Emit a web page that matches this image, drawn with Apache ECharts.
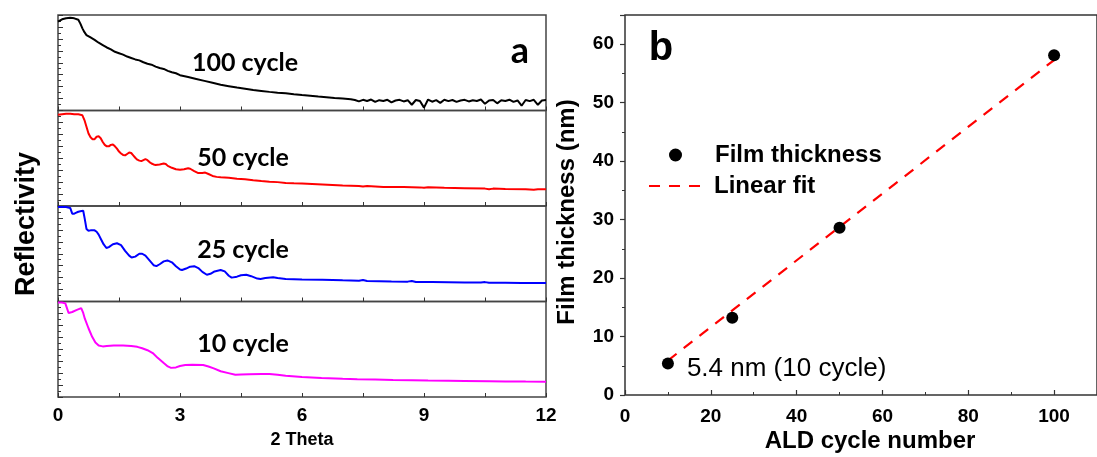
<!DOCTYPE html>
<html>
<head>
<meta charset="utf-8">
<script src="https://cdn.jsdelivr.net/npm/echarts@6/dist/echarts.min.js"></script>
<style>
html,body{margin:0;padding:0;background:#fff;}
#chart{width:1097px;height:457px;}
</style>
</head>
<body>
<div id="chart"></div>
<script>
// ---------- Panel a: XRR curves (normalised position inside each sub-panel) ----------
const curve100 = [
[0,0.93],[0.1,0.955],[0.2,0.965],[0.3,0.97],[0.4,0.965],[0.5,0.95],[0.55,0.91],[0.6,0.86],[0.65,0.82],[0.7,0.79],[0.8,0.765],[0.9,0.74],[1.0,0.71],[1.1,0.685],[1.2,0.66],[1.3,0.64],[1.4,0.615],[1.5,0.6],[1.6,0.585],[1.7,0.565],[1.8,0.55],[1.9,0.535],[2.0,0.525],[2.1,0.505],[2.2,0.49],[2.3,0.48],[2.4,0.46],[2.5,0.445],[2.6,0.435],[2.7,0.415],[2.8,0.4],[2.9,0.39],[3.0,0.37],[3.2,0.35],[3.4,0.33],[3.6,0.31],[3.8,0.29],[4.0,0.27],[4.2,0.255],[4.4,0.24],[4.6,0.228],[4.8,0.215],[5.0,0.205],[5.2,0.195],[5.4,0.187],[5.6,0.18],[5.8,0.17],[6.0,0.162],[6.2,0.155],[6.4,0.146],[6.6,0.14],[6.8,0.132],[7.0,0.125],[7.2,0.118],
[7.3,0.11],[7.4,0.095],[7.5,0.112],[7.6,0.1],[7.7,0.115],[7.8,0.09],[7.9,0.108],[8.0,0.1],[8.1,0.112],[8.2,0.085],[8.3,0.105],[8.4,0.112],[8.5,0.095],[8.6,0.108],[8.7,0.06],[8.8,0.11],[8.9,0.1],[9.0,0.03],[9.1,0.115],[9.2,0.092],[9.3,0.108],[9.4,0.08],[9.5,0.112],[9.6,0.098],[9.7,0.11],[9.8,0.09],[9.9,0.105],[10.0,0.112],[10.1,0.095],[10.2,0.108],[10.3,0.1],[10.4,0.115],[10.5,0.07],[10.6,0.105],[10.7,0.11],[10.8,0.075],[10.9,0.108],[11.0,0.1],[11.1,0.113],[11.2,0.09],[11.3,0.105],[11.4,0.05],[11.5,0.11],[11.6,0.098],[11.7,0.112],[11.8,0.06],[11.9,0.105],[12.0,0.11]
];
const curve50 = [
[0,0.955],[0.1,0.96],[0.2,0.965],[0.3,0.965],[0.4,0.96],[0.5,0.96],[0.6,0.95],[0.65,0.9],[0.7,0.83],[0.75,0.76],[0.8,0.72],[0.85,0.7],[0.9,0.7],[0.95,0.725],[1.0,0.73],[1.05,0.71],[1.1,0.67],[1.15,0.64],[1.2,0.625],[1.25,0.625],[1.3,0.64],[1.35,0.645],[1.4,0.625],[1.45,0.6],[1.5,0.57],[1.55,0.55],[1.6,0.535],[1.65,0.53],[1.7,0.545],[1.75,0.56],[1.8,0.555],[1.85,0.53],[1.9,0.505],[1.95,0.485],[2.0,0.475],[2.05,0.47],[2.1,0.48],[2.15,0.49],[2.2,0.48],[2.25,0.46],[2.3,0.445],[2.35,0.435],[2.4,0.43],[2.5,0.435],[2.6,0.445],[2.65,0.44],[2.7,0.42],[2.8,0.4],[2.9,0.385],[3.0,0.38],[3.1,0.385],[3.2,0.395],[3.25,0.39],[3.35,0.365],[3.45,0.345],[3.55,0.345],[3.62,0.35],[3.7,0.335],[3.8,0.315],[3.9,0.305],[4.0,0.3],[4.2,0.295],[4.4,0.285],[4.6,0.28],[4.8,0.27],[5.0,0.262],[5.2,0.255],[5.4,0.25],[5.6,0.242],[5.8,0.238],[6.0,0.235],[6.5,0.225],[7.0,0.215],[7.4,0.21],[7.5,0.205],[7.6,0.21],[8.0,0.2],[8.5,0.198],[8.9,0.195],[9.0,0.19],[9.1,0.196],[9.5,0.19],[10.0,0.186],[10.5,0.182],[10.6,0.176],[10.7,0.182],[11.0,0.178],[11.5,0.176],[11.7,0.17],[11.8,0.176],[12.0,0.175]
];
const curve25 = [
[0,0.99],[0.1,0.99],[0.2,0.99],[0.3,0.98],[0.35,0.92],[0.4,0.92],[0.45,0.93],[0.5,0.94],[0.55,0.945],[0.62,0.95],[0.66,0.86],[0.7,0.76],[0.75,0.74],[0.8,0.745],[0.9,0.745],[0.95,0.73],[1.0,0.7],[1.06,0.65],[1.12,0.6],[1.19,0.56],[1.25,0.57],[1.35,0.6],[1.45,0.61],[1.55,0.59],[1.65,0.53],[1.75,0.48],[1.81,0.46],[1.9,0.47],[2.0,0.5],[2.07,0.5],[2.15,0.48],[2.25,0.43],[2.35,0.38],[2.42,0.37],[2.5,0.39],[2.6,0.42],[2.69,0.43],[2.8,0.41],[2.9,0.37],[3.0,0.335],[3.05,0.33],[3.15,0.345],[3.25,0.365],[3.35,0.37],[3.45,0.35],[3.55,0.31],[3.66,0.28],[3.75,0.29],[3.85,0.315],[4.0,0.33],[4.1,0.315],[4.2,0.27],[4.27,0.25],[4.4,0.26],[4.5,0.275],[4.63,0.28],[4.75,0.265],[4.9,0.24],[4.98,0.235],[5.1,0.245],[5.29,0.255],[5.4,0.245],[5.6,0.235],[6.0,0.23],[6.5,0.228],[7.0,0.222],[7.4,0.218],[7.5,0.225],[7.6,0.215],[8.2,0.21],[8.6,0.208],[8.7,0.215],[8.8,0.205],[9.2,0.204],[9.6,0.202],[10,0.2],[10.4,0.198],[10.5,0.203],[10.6,0.196],[11,0.196],[11.4,0.194],[12,0.193]
];
const curve10 = [
[0,0.99],[0.1,0.99],[0.18,0.98],[0.22,0.93],[0.26,0.88],[0.35,0.89],[0.45,0.91],[0.57,0.93],[0.62,0.88],[0.66,0.82],[0.75,0.72],[0.84,0.63],[0.92,0.57],[1.0,0.54],[1.1,0.53],[1.2,0.535],[1.37,0.54],[1.6,0.54],[1.8,0.535],[1.95,0.525],[2.07,0.51],[2.2,0.49],[2.33,0.46],[2.45,0.41],[2.6,0.355],[2.7,0.32],[2.78,0.305],[2.9,0.31],[3.0,0.325],[3.13,0.335],[3.3,0.337],[3.57,0.335],[3.7,0.32],[3.83,0.3],[4.0,0.27],[4.19,0.25],[4.36,0.232],[4.5,0.235],[4.7,0.238],[5.0,0.24],[5.2,0.24],[5.4,0.232],[5.6,0.222],[6.0,0.21],[6.48,0.198],[7.0,0.19],[7.36,0.186],[7.8,0.182],[8.24,0.178],[8.7,0.175],[9.1,0.172],[9.6,0.17],[10,0.168],[10.6,0.165],[11,0.163],[11.5,0.161],[12,0.16]
];
const panelNames = ['100 cycle', '50 cycle', '25 cycle', '10 cycle'];
const panelColors = ['#000000', '#ff0000', '#0000ff', '#ff00ff'];
const thetaTickLabels = [0, 3, 6, 9, 12];

// ---------- Panel b: thickness vs ALD cycles ----------
const cycles = [10, 25, 50, 100];
const thickness = [5.4, 13.2, 28.6, 58.1];
const fitCycles = [10, 100];
const fitThickness = [5.9, 57.3];

const chart = echarts.init(document.getElementById('chart'), null, {renderer: 'canvas'});

const AR = 'Liberation Sans';
const curves = [curve100, curve50, curve25, curve10];
const subTop = [15, 110.5, 206, 301.5];
const subH = 95.5;

const grids = [], xAxes = [], yAxes = [], series = [];
curves.forEach((c, i) => {
  grids.push({left: 58, width: 488, top: subTop[i], height: subH, show: true, borderColor: '#444', borderWidth: 1.5, containLabel: false});
  xAxes.push({
    type: 'value', gridIndex: i, min: 0, max: 12, interval: 1.5,
    axisLine: {show: false},
    axisTick: {show: true, inside: true, length: 4, lineStyle: {color: '#333', width: 1}},
    splitLine: {show: false},
    axisLabel: {
      show: i === 3, margin: 9, color: '#000', fontFamily: AR, fontWeight: 'bold', fontSize: 19,
      formatter: v => thetaTickLabels.indexOf(v) >= 0 ? String(v) : ''
    }
  });
  yAxes.push({
    type: 'value', gridIndex: i, min: 0, max: 1, interval: 0.125,
    axisLine: {show: false},
    axisTick: {show: true, inside: true, length: 5, lineStyle: {color: '#333'}},
    minorTick: {show: true, splitNumber: 2, length: 3, lineStyle: {color: '#333'}},
    splitLine: {show: false}, axisLabel: {show: false}
  });
  series.push({
    type: 'line', name: panelNames[i], xAxisIndex: i, yAxisIndex: i, data: c,
    showSymbol: false, symbol: 'none', lineStyle: {color: panelColors[i], width: 2}, clip: true, z: 3
  });
});

// right panel
grids.push({left: 625, top: 15, width: 482, height: 380, show: true, borderColor: '#333', borderWidth: 1.5});
xAxes.push({
  type: 'value', gridIndex: 4, min: 0, max: 110, interval: 20,
  axisLine: {show: false},
  axisTick: {inside: true, length: 5, lineStyle: {color: '#333', width: 1.2}},
  minorTick: {show: true, splitNumber: 2, length: 3, lineStyle: {color: '#333'}},
  splitLine: {show: false},
  axisLabel: {margin: 12, color: '#000', fontFamily: AR, fontWeight: 'bold', fontSize: 19, showMaxLabel: false}
});
yAxes.push({
  type: 'value', gridIndex: 4, min: 0, max: 65, interval: 10,
  axisLine: {show: false},
  axisTick: {inside: false, length: 5, lineStyle: {color: '#333', width: 1.2}},
  minorTick: {show: true, splitNumber: 2, length: 3, lineStyle: {color: '#333'}},
  splitLine: {show: false},
  axisLabel: {margin: 11, color: '#000', fontFamily: AR, fontWeight: 'bold', fontSize: 19, showMaxLabel: false}
});

series.push({
  type: 'line', name: 'Linear fit', xAxisIndex: 4, yAxisIndex: 4,
  data: fitCycles.map((c, i) => [c, fitThickness[i]]),
  symbol: 'none', showSymbol: false,
  lineStyle: {color: '#ff0000', width: 2.2, type: [11, 9]},
  itemStyle: {color: '#ff0000'}, z: 3
});
series.push({
  type: 'scatter', name: 'Film thickness', xAxisIndex: 4, yAxisIndex: 4,
  symbol: 'circle', symbolSize: 12,
  itemStyle: {color: '#000', opacity: 1},
  data: cycles.map((c, i) => i === 0 ? {
    value: [c, thickness[i]],
    label: {
      show: true, position: 'right', offset: [8, 5], color: '#000',
      fontFamily: AR, fontSize: 26,
      formatter: p => p.value[1] + ' nm (' + p.value[0] + ' cycle)'
    }
  } : [c, thickness[i]]),
  z: 4
});

const graphics = [];
const labelCenters = [[245, 63], [243, 158], [243, 250], [243, 344]];
panelNames.forEach((n, i) => {
  graphics.push({type: 'text', x: labelCenters[i][0], y: labelCenters[i][1], style: {
    text: n, font: 'bold 25px Lato', fill: '#000', textAlign: 'center', textVerticalAlign: 'middle'}});
});
graphics.push({type: 'text', x: 520, y: 51, style: {text: 'a', font: 'bold 36px Lato', fill: '#000', textAlign: 'center', textVerticalAlign: 'middle'}});
graphics.push({type: 'text', x: 302, y: 440, style: {text: '2 Theta', font: 'bold 18px "Liberation Sans"', fill: '#000', textAlign: 'center', textVerticalAlign: 'middle'}});
graphics.push({type: 'text', x: 27, y: 224, rotation: Math.PI / 2, style: {text: 'Reflectivity', font: 'bold 27px "Liberation Sans"', fill: '#000', textAlign: 'center', textVerticalAlign: 'middle'}});
graphics.push({type: 'text', x: 661, y: 49, style: {text: 'b', font: 'bold 40px "Liberation Sans"', fill: '#000', textAlign: 'center', textVerticalAlign: 'middle'}});
graphics.push({type: 'text', x: 870, y: 441, style: {text: 'ALD cycle number', font: 'bold 24px "Liberation Sans"', fill: '#000', textAlign: 'center', textVerticalAlign: 'middle'}});
graphics.push({type: 'text', x: 567, y: 212, rotation: Math.PI / 2, style: {text: 'Film thickness (nm)', font: 'bold 24px "Liberation Sans"', fill: '#000', textAlign: 'center', textVerticalAlign: 'middle'}});

chart.setOption({
  animation: false,
  backgroundColor: '#ffffff',
  grid: grids, xAxis: xAxes, yAxis: yAxes, series: series,
  legend: [
    {data: ['Film thickness'], left: 669, top: 143, orient: 'vertical', padding: 0, itemWidth: 13, itemHeight: 13,
     icon: 'circle', itemStyle: {color: '#000', opacity: 1},
     textStyle: {fontFamily: AR, fontWeight: 'bold', fontSize: 24, color: '#000', padding: [0, 0, 0, 28]}},
    {data: ['Linear fit'], left: 648, top: 174, orient: 'vertical', padding: 0, itemWidth: 58, itemHeight: 13,
     itemStyle: {color: 'rgba(0,0,0,0)', borderWidth: 0},
     textStyle: {fontFamily: AR, fontWeight: 'bold', fontSize: 24, color: '#000', padding: [0, 0, 0, 2]}}
  ],
  graphic: graphics
});
</script>
</body>
</html>
